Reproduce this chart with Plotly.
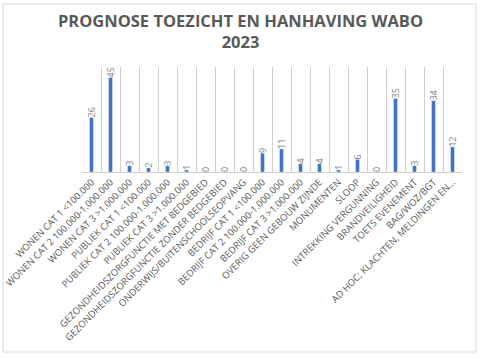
import plotly.graph_objects as go

categories = [
    "WONEN CAT 1 <100.000",
    "WONEN CAT 2 100.000-1.000.000",
    "WONEN CAT 3 >1.000.000",
    "PUBLIEK CAT 1 <100.000",
    "PUBLIEK CAT 2 100.000-1.000.000",
    "PUBLIEK CAT 3 >1.000.000",
    "GEZONDHEIDSZORGFUNCTIE MET BEDGEBIED",
    "GEZONDHEIDSZORGFUNCTIE ZONDER BEDGEBIED",
    "ONDERWIJS/BUITENSCHOOLSEOPVANG",
    "BEDRIJF CAT 1 <100.000",
    "BEDRIJF CAT 2 100.000-1.000.000",
    "BEDRIJF CAT 3 >1.000.000",
    "OVERIG GEEN GEBOUW ZIJNDE",
    "MONUMENTEN",
    "SLOOP",
    "INTREKKING VERGUNNING",
    "BRANDVEILIGHEID",
    "TOETS EVENEMENT",
    "BAG/WOZ/BGT",
    "AD HOC; KLACHTEN, MELDINGEN EN…",
]
values = [26, 45, 3, 2, 3, 1, 0, 0, 0, 9, 11, 4, 4, 1, 6, 0, 35, 3, 34, 12]
title = "PROGNOSE TOEZICHT EN HANHAVING WABO<br>2023"

W, H = 481, 358
L, R, T, B = 82, 19, 67, 186
pw = W - L - R
ph = H - T - B

positions = list(range(len(categories)))

fig = go.Figure(go.Bar(
    x=positions,
    y=values,
    marker_color="#4472C4",
    text=[str(v) for v in values],
    textposition="outside",
    textangle=-90,
    constraintext="none",
    cliponaxis=False,
    textfont=dict(family="Open Sans", size=9, color="#7f7f7f"),
    hovertext=categories,
))

fig.update_layout(
    width=W, height=H,
    margin=dict(l=L, r=R, t=T, b=B, autoexpand=False),
    paper_bgcolor="white",
    plot_bgcolor="white",
    bargap=0.79,
    showlegend=False,
    title=dict(
        text=title,
        x=0.5, xanchor="center", xref="container",
        y=1 - 27 / H, yanchor="middle", yref="container",
        font=dict(family="Open Sans", size=16.5, color="#595959", weight="bold"),
    ),
    xaxis=dict(
        type="linear",
        range=[-0.5, len(categories) - 0.5],
        automargin=False,
        tickmode="array",
        tickvals=positions,
        ticktext=categories,
        showgrid=False,
        zeroline=False,
        minor=dict(tick0=-0.5, dtick=1, showgrid=True,
                   gridcolor="#d0d0d0", gridwidth=1, ticks=""),
        showline=True,
        linecolor="#d0d0d0",
        linewidth=1,
        ticks="",
        tickangle=-45,
        tickfont=dict(family="Open Sans", size=9.5, color="#595959"),
    ),
    yaxis=dict(
        range=[0, 50],
        visible=True,
        showticklabels=False,
        showline=False,
        ticks="",
        showgrid=False,
        zeroline=False,
        automargin=False,
    ),
    shapes=[dict(
        type="rect", xref="paper", yref="paper",
        x0=(3 - L) / pw, x1=(476 - L) / pw,
        y0=(H - B - 352) / ph, y1=(H - B - 4) / ph,
        line=dict(color="#d9d9d9", width=1),
        fillcolor="rgba(0,0,0,0)",
        layer="below",
    )],
)

fig.write_html(
    "out.html",
    config={"displayModeBar": False},
    post_script="document.body.style.margin='0';document.body.style.overflow='hidden';",
)
